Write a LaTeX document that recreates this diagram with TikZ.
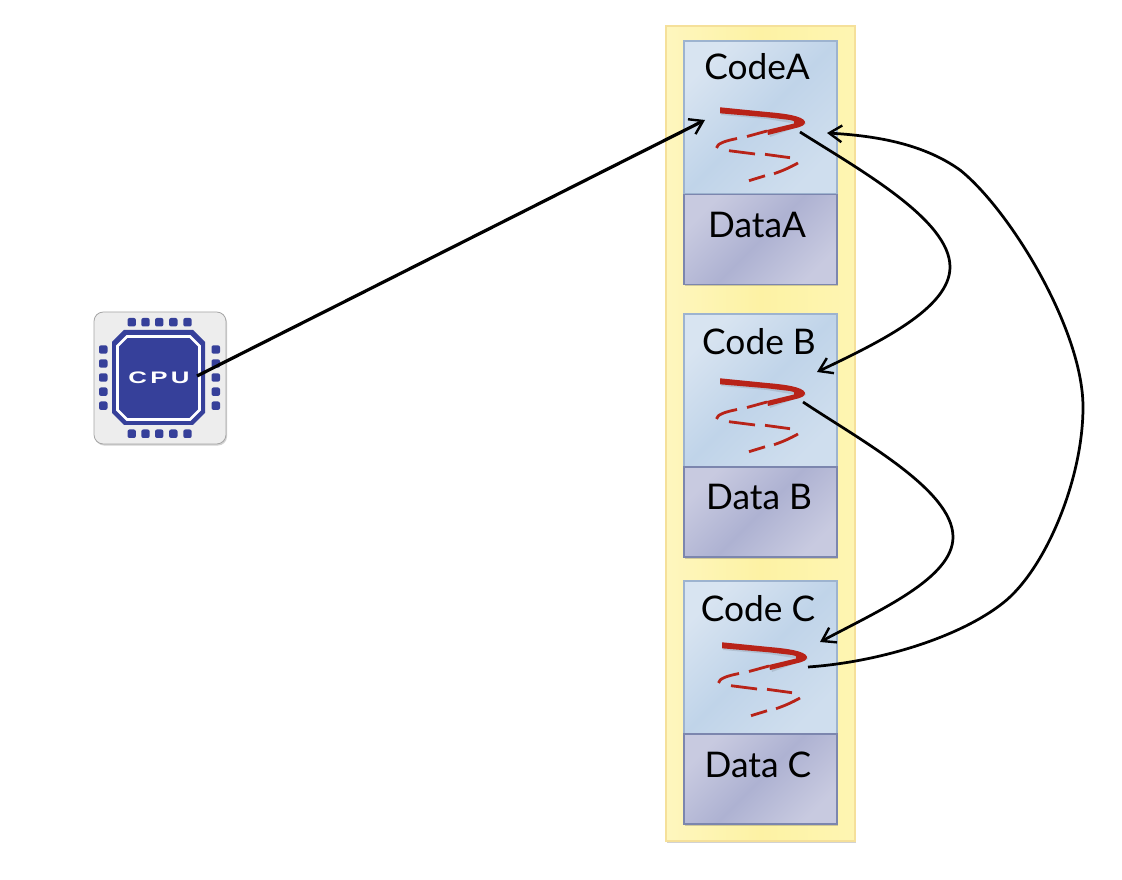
\documentclass[tikz,border=0pt]{standalone}
\usepackage{fontspec}
\usepackage{graphicx}
\setmainfont{Lato}
\newfontfamily\cpufont{Liberation Sans}
\usetikzlibrary{arrows.meta,shadows}
\definecolor{chipblue}{HTML}{36409A}
\definecolor{squigred}{HTML}{B82318}
\definecolor{codeTL}{HTML}{D8E4F1}
\definecolor{codeM}{HTML}{C0D4E9}
\definecolor{codeBR}{HTML}{CFDEEE}
\definecolor{codeE}{HTML}{9DB3CF}
\definecolor{dataC}{HTML}{C8CAE0}
\definecolor{dataM}{HTML}{AEB2D2}
\definecolor{dataE}{HTML}{7C86AE}
\definecolor{memL}{HTML}{FEF6BE}
\definecolor{memM}{HTML}{FDF2A4}
\definecolor{memR}{HTML}{FEF5B2}
\definecolor{memE}{HTML}{F5E09A}
\tikzset{
  px/.style={x=0.75pt,y=-0.75pt},
  softshadow/.style={drop shadow={shadow xshift=0.8pt,shadow yshift=-1.2pt,opacity=.25,fill=black!70}},
  memory/.style={rectangle,minimum width=189*0.75pt,minimum height=815*0.75pt,inner sep=0pt,draw=memE,line width=1.4pt,
     left color=memL,right color=memR,middle color=memM,softshadow},
  codebox/.style={rectangle,minimum width=153*0.75pt,minimum height=153*0.75pt,inner sep=0pt,draw=codeE,line width=1pt,
     top color=codeTL,bottom color=codeBR,middle color=codeM,shading angle=45,softshadow},
  databox/.style={rectangle,minimum width=153*0.75pt,minimum height=90*0.75pt,inner sep=0pt,draw=dataE,line width=1.3pt,
     top color=dataC,bottom color=dataC,middle color=dataM,shading angle=45,softshadow},
  label/.style={font=\fontsize{26.5pt}{30pt}\selectfont,text=black,inner sep=0pt,anchor=center},
  link/.style={draw=black,line width=2.05pt,-{Straight Barb[length=9.5pt,width=12.5pt,line width=1.8pt]}},
  dash seg/.style={draw=squigred,line width=2.1pt},
  pad/.style={fill=chipblue,rounded corners=1.5pt},
  squig/.pic={
    \fill[black,opacity=.1] (721,109) -- (767,113) .. controls (790,115) and (805,118) .. (806,124)
       -- (770,137) -- (769,132) -- (797,124) -- (767,119) -- (721,115) -- cycle;
    \fill[squigred] (720,107.3) -- (767,112) .. controls (785,113.5) and (803,116) .. (805,121.7)
       .. controls (805,125) and (802,126.5) .. (799,127.2) -- (768,135) -- (767,130) -- (794,123.5)
       .. controls (796,122) and (794,120.8) .. (790,120) -- (767,117.3) -- (720,113.3) -- cycle;
    \draw[dash seg] (767,131) -- (747,136.5);
    \draw[dash seg] (737,138.5) .. controls (725,141) and (717,143.5) .. (716.5,148);
    \draw[dash seg] (729,150.7) -- (755,154);
    \draw[dash seg] (765,154.3) -- (790,157.7);
    \draw[dash seg] (798,163) .. controls (790,167.5) and (782,171) .. (774,173.7);
    \draw[dash seg] (765,175.8) -- (749,180.7);
  }
}
\begin{document}
\begin{tikzpicture}[px]
\useasboundingbox (0,0) rectangle (1122,880);
\fill[white] (0,0) rectangle (1122,880);
% memory column
\node[memory] (mem) at (760.5,433.5) {};
\node[codebox] (codeA) at (760.5,117.5) {};
\node[databox] (dataA) at (760.5,239.5) {};
\node[codebox] (codeB) at (760.5,390.5) {};
\node[databox] (dataB) at (760.5,512) {};
\node[codebox] (codeC) at (760.5,657.5) {};
\node[databox] (dataC) at (760.5,779) {};
\node[label] (tA) at (757,67) {CodeA};
\node[label] (tDA) at (757,225) {DataA};
\node[label] (tB) at (759,342) {Code B};
\node[label] (tDB) at (759,497) {Data B};
\node[label] (tC) at (758,609) {Code C};
\node[label] (tDC) at (758,765) {Data C};
\pic at (0,0) {squig};
\pic at (0,271) {squig};
\pic at (2,535) {squig};
% CPU icon
\node[rectangle,rounded corners=7pt,minimum width=132*0.75pt,minimum height=132*0.75pt,inner sep=0pt,fill=black!7,draw=black!35,line width=0.6pt,softshadow] (cpu) at (160,378) {};
\fill[chipblue] (124,330) -- (193,330) -- (205,342) -- (205,413) -- (193,425) -- (124,425) -- (112,413) -- (112,342) -- cycle;
\draw[white,line width=2.1pt] (127,336.5) -- (190,336.5) -- (199.5,346) -- (199.5,410) -- (190,419.5) -- (127,419.5) -- (117.5,410) -- (117.5,346) -- cycle;
\foreach \x in {131.7,145.5,159.2,173.3,187.5}{
  \fill[pad] (\x-4.2,326.5) rectangle (\x+4.2,318);
  \fill[pad] (\x-4.2,429.5) rectangle (\x+4.2,438);
}
\foreach \y in {349.5,363.5,377.5,391.7,405.7}{
  \fill[pad] (99,\y-4.2) rectangle (107.5,\y+4.2);
  \fill[pad] (211.5,\y-4.2) rectangle (220,\y+4.2);
}
\node[inner sep=0pt,text=white] (cputext) at (159,378) {\scalebox{1.55}[1]{\cpufont\bfseries\fontsize{12.5pt}{14pt}\selectfont C\kern1.6pt P\kern1.6pt U}};
% connector ends
\coordinate (cpuOut) at (197,376);
\coordinate (aIn) at (705,120);
\coordinate (aOut) at (800,132);
\coordinate (bIn) at (817,372);
\coordinate (bOut) at (803,402);
\coordinate (cIn) at (820,642);
\coordinate (cOut) at (808,667);
\coordinate (aBack) at (827,133);
\draw[link,line width=2.4pt] (cpuOut) -- (aIn);
\draw[link] (aOut) .. controls (860,170) and (950,220) .. (950,267) .. controls (950,308) and (880,342) .. (bIn);
\draw[link] (bOut) .. controls (860,440) and (953,490) .. (953,537) .. controls (953,578) and (880,610) .. (cIn);
\draw[link] (cOut) .. controls (880,662) and (960,637) .. (1003,603) .. controls (1045,570) and (1083,480) .. (1083,407) .. controls (1083,330) and (1010,210) .. (960,170) .. controls (925,145) and (880,136) .. (aBack);
\end{tikzpicture}
\end{document}
